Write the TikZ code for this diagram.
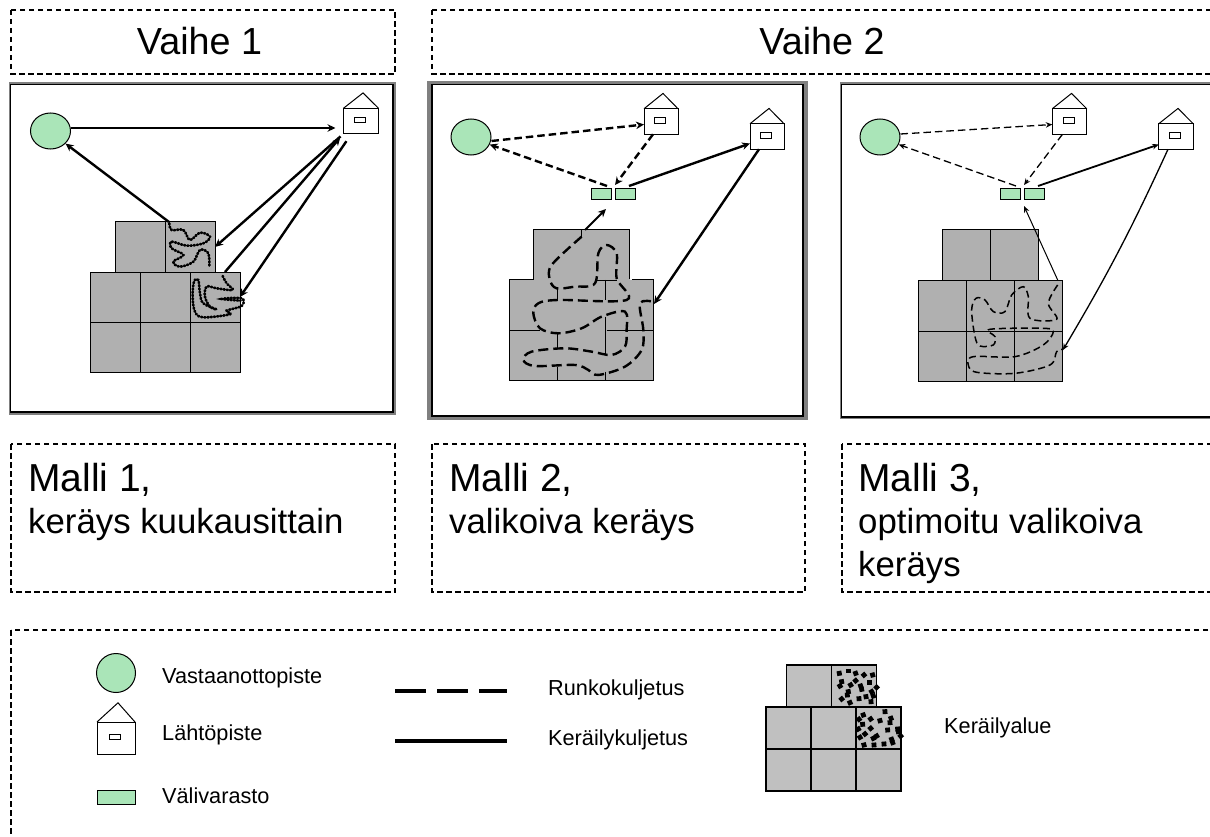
\documentclass[tikz,border=0pt]{standalone}
\usepackage{fontspec}
\setmainfont{Liberation Sans}
\usepackage{tikz}
\usetikzlibrary{positioning,shapes.geometric,arrows.meta}
\definecolor{recgreen}{HTML}{AAE5B8}
\definecolor{cellgrey}{HTML}{B0B0B0}
\definecolor{keygrey}{HTML}{C0C0C0}
\definecolor{framegrey}{HTML}{808080}
\tikzstyle{rec} = [draw, ellipse, fill=recgreen, line width=1pt, inner sep=0pt, minimum width=40pt, minimum height=36pt]
\tikzstyle{depot} = [draw, rectangle, fill=recgreen, line width=1pt, inner sep=0pt, outer sep=0pt, minimum width=20pt, minimum height=11pt]
\tikzstyle{house} = [draw, rectangle, fill=white, line width=1pt, inner sep=0pt, outer sep=0pt]
\tikzstyle{window} = [draw, rectangle, line width=.7pt, inner sep=0pt, minimum width=11pt, minimum height=5.5pt]
\tikzstyle{cell} = [draw, rectangle, fill=cellgrey, line width=1pt, inner sep=0pt, outer sep=0pt]
\tikzstyle{dashbox} = [draw, dash pattern=on 5.5pt off 3.5pt, line width=1.3pt]
\tikzstyle{bigtext} = [anchor=base, inner sep=0pt, font=\fontsize{37.7}{37.7}\selectfont]
\tikzstyle{modeltext} = [anchor=base west, inner sep=0pt, font=\fontsize{39}{39}\selectfont]
\tikzstyle{subtext} = [anchor=base west, inner sep=0pt, font=\fontsize{34.8}{34.8}\selectfont]
\tikzstyle{keytext} = [anchor=base west, inner sep=0pt, font=\fontsize{21.7}{21.7}\selectfont]
\tikzstyle{thick arrow} = [line width=2.4pt, -{Stealth[length=8pt,width=7.5pt]}]
\tikzstyle{thin arrow} = [line width=1.3pt, -{Stealth[length=6.5pt,width=5.5pt]}]
\tikzstyle{haul} = [dash pattern=on 7.5pt off 4pt]
\tikzstyle{dotline} = [line width=2.6pt, line cap=round, dash pattern=on 1.2pt off 2pt]
\tikzstyle{dashline} = [line width=2.4pt, dash pattern=on 10pt off 5pt]
% house = body, roof and window
\newcommand{\housenode}[5]{
\node (#1) [house, minimum width=#4pt, minimum height=#5pt] at (#2,#3) {};
\draw [line width=1pt] (#1.north west) -- ++({#4/2+2},{-.6*#5}) -- (#1.north east);
\node (#1w) [window, xshift=-1pt, yshift=1pt] at (#1) {};
}
% block of eight cells, corner = top left of the middle row, last value = inset of the top row
\newcommand{\cellgroup}[7][]{
\node (#2c) [cell, #1, minimum width=#5pt, minimum height=#6pt, anchor=north west] at (#3,#4) {};
\node (#2d) [cell, #1, minimum width=#5pt, minimum height=#6pt, right=0pt of #2c] {};
\node (#2e) [cell, #1, minimum width=#5pt, minimum height=#6pt, right=0pt of #2d] {};
\node (#2f) [cell, #1, minimum width=#5pt, minimum height=#6pt, below=0pt of #2c] {};
\node (#2g) [cell, #1, minimum width=#5pt, minimum height=#6pt, right=0pt of #2f] {};
\node (#2h) [cell, #1, minimum width=#5pt, minimum height=#6pt, right=0pt of #2g] {};
\node (#2a) [cell, #1, minimum width=#5pt, minimum height=#6pt, anchor=south west] at ([xshift=#7pt]#2c.north west) {};
\node (#2b) [cell, #1, minimum width=#5pt, minimum height=#6pt, right=0pt of #2a] {};
}

\begin{document}
\begin{tikzpicture}[x=1pt, y=-1pt]
\useasboundingbox (0,0) rectangle (1210,837);
\clip (0,0) rectangle (1210,837);

% header
\draw [dashbox] (11,10) rectangle (395,74);
\draw [dashbox] (432,10) rectangle (1230,74);
\node (phase1) [bigtext] at (199.5,55) {Vaihe 1};
\node (phase2) [bigtext] at (822,55) {Vaihe 2};

% frames
\draw [framegrey, line width=2pt] (9.5,83) rectangle (394.5,413.5);
\draw [line width=1.7pt] (10.5,84.5) rectangle (393,412);
\draw [framegrey, line width=4pt] (429,83) rectangle (805.5,417.5);
\draw [line width=1.7pt] (432,84.5) rectangle (803,416);
\draw [framegrey, line width=1.5pt] (841,83) rectangle (1230,418);
\draw [line width=1.7pt] (841.5,84.5) rectangle (1230,417);

% model 1
\node (rec1) [rec] at (50.5,131) {};
\housenode{home1}{361}{121}{35}{25.5}
\cellgroup{a}{90}{272}{50}{50}{25}
\begin{scope}[shift={(0,80)}, x=.3333pt, y=-.3333pt]
\draw [dotline] plot [smooth, tension=.6] coordinates {(508,430) (515,450) (550,450) (570,480) (600,458) (630,470) (610,490) (560,497) (515,485) (515,505) (550,525) (520,545) (540,560) (580,545) (600,510) (625,520) (628,560)};
\draw [dotline] plot [smooth, tension=.6] coordinates {(668,588) (680,610) (698,630) (650,625) (620,620) (615,650) (630,680) (650,688) (610,670) (600,640) (595,600) (582,605) (578,650) (585,695) (610,712) (690,703) (680,692) (725,678) (725,655) (665,657) (722,662)};
\end{scope}
\draw [thick arrow, shorten >=8pt] ([yshift=3pt]rec1.east) -- ([yshift=-7pt]home1.west);
\draw [thick arrow] ([xshift=4pt]ab.north west) -- (rec1.-40);
\draw [thick arrow, shorten <=4pt] (home1.south west) -- (ab.east);
\draw [thick arrow, shorten >=5pt] ([xshift=10pt]ae.north) -- (home1.south west);
\draw [thick arrow, shorten <=9pt] ([xshift=8pt]home1.south west) -- (ae.east);

% model 2
\node (rec2) [rec] at (471,137) {};
\housenode{home2a}{661}{121.5}{34}{25.5}
\housenode{home2b}{767}{136.5}{34}{25.5}
\node (dep2a) [depot] at (601,194.5) {};
\node (dep2b) [depot, right=4pt of dep2a] {};
\begin{scope}[shift={(425,80)}, x=.3333pt, y=-.3333pt]
\fill [cellgrey] (325,449) -- (615,449) -- (615,600) -- (687,600) -- (687,903) -- (253,903) -- (253,600) -- (325,600) -- cycle;
\draw [line width=1pt] (325,600) -- (325,449) -- (615,449) -- (615,598);
\draw [line width=1pt] (325,600) -- (253,600) -- (253,903) -- (687,903) -- (687,600) -- (620,600);
\draw [line width=.8pt] (253,750) -- (345,750) (545,750) -- (687,750) (510,600) -- (575,600);
\draw [line width=.8pt] (470,449) -- (470,470) (397,625) -- (397,660) (397,760) -- (397,805) (397,860) -- (397,903);
\draw [line width=.8pt] (541,600) -- (541,660) (541,710) -- (541,825) (541,875) -- (541,903);
\draw [dashline] plot [smooth, tension=.55] coordinates {(470,470) (380,555) (375,600) (395,625) (450,620) (510,610) (520,520) (545,495) (575,520) (575,595) (605,660) (400,660) (340,670) (325,700) (345,745) (400,760) (470,745) (530,710) (600,695) (605,750) (600,800) (560,825) (500,815) (420,805) (320,815) (295,840) (330,858) (450,855) (490,870) (520,885) (600,860) (650,810) (655,750) (645,670) (685,665)};
\end{scope}
\draw [thick arrow, haul] ([yshift=-4pt]rec2.east) -- ([yshift=-3pt]home2a.west);
\draw [thick arrow, haul] ([yshift=3pt,xshift=-4pt]dep2a.north east) -- (rec2.-22);
\draw [thick arrow, haul] ([xshift=-8pt]home2a.south) -- ([yshift=4pt]dep2b.north west);
\draw [thick arrow] ([xshift=-6pt,yshift=3pt]dep2b.north east) -- ([yshift=-7pt]home2b.west);
\draw [thick arrow] ([xshift=-8pt]home2b.south) -- (654,304);
\coordinate (gate2) at (585,230);
\draw [thick arrow, line width=1.8pt] (gate2) -- ([xshift=-5pt,yshift=-9pt]dep2a.south east);

% model 3
\node (rec3) [rec] at (880,137) {};
\housenode{home3a}{1069.5}{121.5}{34.5}{25.5}
\housenode{home3b}{1176}{136.5}{34.5}{25.5}
\node (dep3a) [depot] at (1010,194.5) {};
\node (dep3b) [depot, right=4pt of dep3a] {};
\cellgroup{k}{918}{280.5}{48.3}{50.5}{24}
\begin{scope}[shift={(830,80)}, x=.3333pt, y=-.3333pt]
\draw [line width=1.5pt, dash pattern=on 7pt off 4pt] plot [smooth, tension=.55] coordinates {(683,615) (655,670) (680,718) (600,715) (595,650) (580,620) (545,645) (525,695) (490,695) (465,660) (438,655) (425,690) (435,770) (450,798) (490,795) (495,770) (480,748) (640,745) (670,755) (640,795) (555,830) (430,830) (415,855) (440,877) (555,880) (660,855) (680,815) (700,808)};
\end{scope}
\draw [thin arrow, haul] ([yshift=3pt]rec3.east) -- ([yshift=-3pt]home3a.west);
\draw [thin arrow, haul] ([yshift=3pt,xshift=-4pt]dep3a.north east) -- (rec3.-22);
\draw [thin arrow, haul] ([xshift=-7pt]home3a.south) -- ([yshift=4pt]dep3b.north west);
\draw [thin arrow, line width=1.8pt] ([xshift=-6pt,yshift=3pt]dep3b.north east) -- ([yshift=-8pt]home3b.west);
\draw [thin arrow] ([xshift=-8pt]home3b.south) to [bend left=3] ([yshift=-19pt]kh.north east);
\draw [thin arrow, line width=1pt] ([xshift=-5pt]ke.north east) -- ([yshift=-6pt]dep3b.south west);

% captions
\draw [dashbox] (11,444) rectangle (395,592);
\draw [dashbox] (432,444) rectangle (805,592);
\draw [dashbox] (842,444) rectangle (1230,592);
\node (model1) [modeltext] at (28,491) {Malli 1,};
\node (sub1) [subtext] at (28,533) {keräys kuukausittain};
\node (model2) [modeltext] at (449,491) {Malli 2,};
\node (sub2) [subtext] at (449,533) {valikoiva keräys};
\node (model3) [modeltext] at (858,491) {Malli 3,};
\node (sub3a) [subtext] at (858,533) {optimoitu valikoiva};
\node (sub3b) [subtext] at (858,576) {keräys};

% key
\draw [dashbox] (11,630) rectangle (1230,860);
\node (keyrec) [rec, minimum width=39pt, minimum height=39pt] at (116,673) {};
\housenode{keyhome}{116}{738}{38}{32}
\node (keydep) [depot, minimum width=38pt, minimum height=14pt] at (116,797) {};
\node (tkeyrec) [keytext] at (162,683) {Vastaanottopiste};
\node (tkeyhome) [keytext] at (162,740) {Lähtöpiste};
\node (tkeydep) [keytext] at (162,803) {Välivarasto};
\coordinate (haul0) at (395,691);
\coordinate (haul1) at (507,691);
\coordinate (pick0) at (395,741);
\coordinate (pick1) at (507,741);
\draw [line width=4pt, dash pattern=on 31pt off 11pt] (haul0) -- (haul1);
\draw [line width=4pt] (pick0) -- (pick1);
\node (tkeyhaul) [keytext] at (548,695) {Runkokuljetus};
\node (tkeypick) [keytext] at (548,745) {Keräilykuljetus};
\cellgroup[fill=keygrey, line width=1.3pt]{m}{766}{707}{45}{42}{20.5}
\begin{scope}[shift={(740,650)}, x=.3333pt, y=-.3333pt]
\foreach \x/\y/\r in {298/70/10,325/63/0,347/70/20,372/75/40,398/75/15,305/95/10,332/105/30,347/92/40,362/108/20,388/97/0,300/108/30,365/118/10,325/125/10,322/135/5,395/125/30,410/112/45,400/138/20,378/140/10,357/146/5,305/147/40,330/158/25,393/155/5,370/195/20,435/185/5,392/207/35,420/212/15,453/205/20,450/218/5,357/208/40,368/223/5,355/237/30,392/235/40,375/252/40,443/240/5,473/237/5,475/245/10,482/258/40,360/262/30,410/258/30,400/265/25,455/268/20,458/278/20,372/285/15,402/285/5,432/282/5}
  \fill [shift={(\x,\y)}, rotate=\r] (-2.4pt,-2.4pt) rectangle (2.4pt,2.4pt);
\end{scope}
\node (tkeyarea) [keytext] at (944,733) {Keräilyalue};
\end{tikzpicture}
\end{document}
